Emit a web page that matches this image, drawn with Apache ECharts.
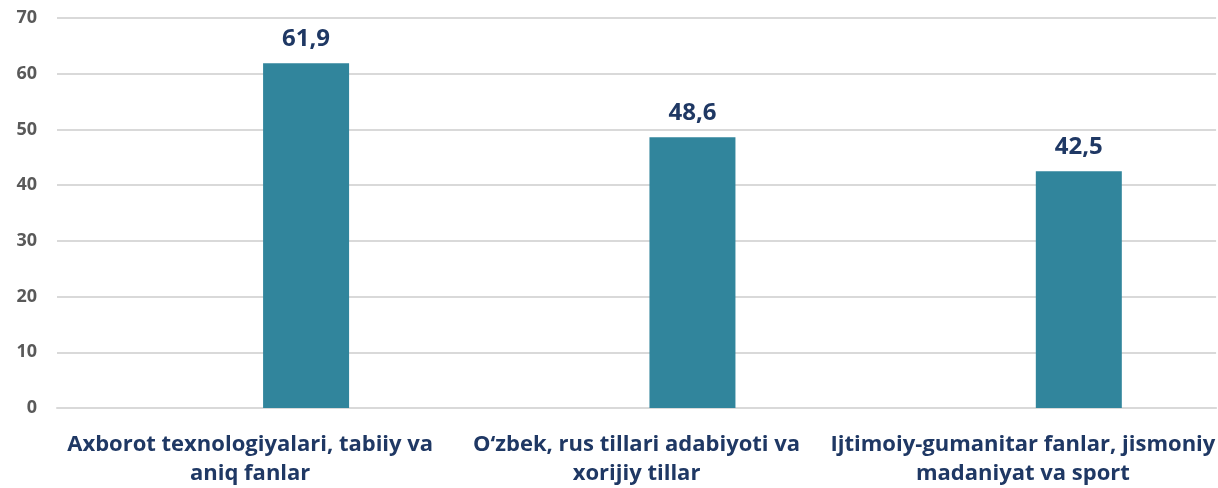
<!DOCTYPE html>
<html>
<head>
<meta charset="utf-8">
<script src="https://cdn.jsdelivr.net/npm/echarts@6/dist/echarts.min.js"></script>
<style>
html, body { margin: 0; padding: 0; background: #fff; }
#chart { width: 1218px; height: 488px; }
</style>
</head>
<body>
<div id="chart"></div>
<script>
var categories = [
    'Axborot texnologiyalari, tabiiy va\naniq fanlar',
    'O‘zbek, rus tillari adabiyoti va\nxorijiy tillar',
    'Ijtimoiy-gumanitar fanlar, jismoniy\nmadaniyat va sport'
];
var shares = [61.9, 48.6, 42.5];
// empty series in the original, bars sit right of centre
var emptySeries = [null, null, null];
var yTicks = [0, 10, 20, 30, 40, 50, 60, 70];

var chart = echarts.init(document.getElementById('chart'));
var font = '"Open Sans", sans-serif';

chart.setOption({
    animation: false,
    grid: { left: 57, right: 0, top: 18, bottom: 80 },
    xAxis: {
        type: 'category',
        data: categories,
        axisLine: { show: true, lineStyle: { color: '#d9d9d9', width: 2 } },
        axisTick: { show: false },
        axisLabel: {
            color: '#1f3864', fontWeight: 'bold', fontSize: 22, fontFamily: font,
            lineHeight: 29, margin: 22, interval: 0
        }
    },
    yAxis: {
        type: 'value',
        min: yTicks[0],
        max: yTicks[yTicks.length - 1],
        interval: 10,
        axisLine: { show: false },
        axisTick: { show: false },
        splitLine: { lineStyle: { color: '#d9d9d9', width: 2 } },
        axisLabel: {
            color: '#595959', fontWeight: 'bold', fontSize: 18, fontFamily: font,
            margin: 20
        }
    },
    series: [
        {
            type: 'bar',
            data: emptySeries,
            barWidth: 86,
            barGap: '30%'
        },
        {
            type: 'bar',
            data: shares,
            barWidth: 86,
            barGap: '30%',
            itemStyle: { color: '#31859c' },
            label: {
                show: true,
                position: 'top',
                distance: 12,
                color: '#1f3864',
                fontWeight: 'bold',
                fontSize: 24,
                fontFamily: font,
                formatter: function (p) { return String(p.value).replace('.', ','); }
            }
        }
    ]
});
</script>
</body>
</html>
